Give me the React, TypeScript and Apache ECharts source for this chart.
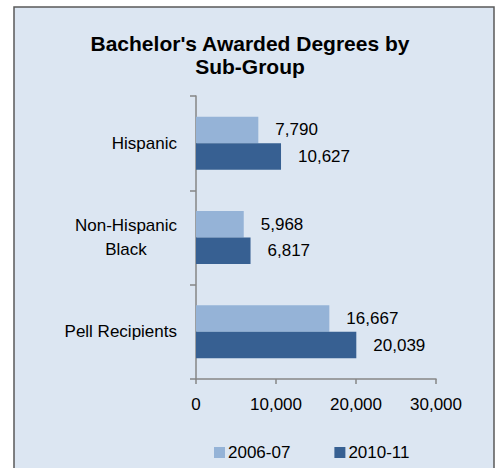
import React, { useEffect, useRef } from "react";
import * as echarts from "echarts";

const categories = ["Hispanic", "Non-Hispanic\nBlack", "Pell Recipients"];
const seriesNames = ["2006-07", "2010-11"];
const values2006 = [7790, 5968, 16667];
const values2011 = [10627, 6817, 20039];
const xTicks = { min: 0, max: 30000, interval: 10000 };

const FONT = '"Liberation Sans", Arial, sans-serif';
const FS = 17;
const fmt = (v: number) => Number(v).toLocaleString("en-US");

export default function App() {
  const ref = useRef<HTMLDivElement>(null);
  useEffect(() => {
    if (!ref.current) return;
    const chart = echarts.init(ref.current, undefined, { renderer: "svg" });
    chart.setOption({
      animation: false,
      backgroundColor: "#ffffff",
      graphic: [
        {
          type: "rect",
          z: -10,
          silent: true,
          shape: { x: 14, y: 7, width: 480, height: 480 },
          style: { fill: "#dce6f2", stroke: "#595959", lineWidth: 1.5 },
        },
      ],
      title: {
        text: "Bachelor's Awarded Degrees by\nSub-Group",
        left: 245,
        top: 27,
        textAlign: "center",
        textStyle: {
          fontFamily: FONT,
          fontWeight: "bold",
          fontSize: 21,
          lineHeight: 23,
          color: "#000000",
        },
      },
      legend: {
        left: 209,
        top: 439,
        icon: "rect",
        itemWidth: 11,
        itemHeight: 11,
        itemGap: 44,
        data: seriesNames,
        textStyle: { fontFamily: FONT, fontSize: FS, color: "#000000", padding: [0, 0, 0, -2] },
      },
      grid: { left: 196, top: 96, width: 240, height: 283, containLabel: false },
      xAxis: {
        type: "value",
        min: xTicks.min,
        max: xTicks.max,
        interval: xTicks.interval,
        splitLine: { show: false },
        axisLine: { show: true, lineStyle: { color: "#868686", width: 1.5 } },
        axisTick: { show: true, length: 5, lineStyle: { color: "#868686", width: 1.5 } },
        axisLabel: {
          formatter: (v: number) => fmt(v),
          fontFamily: FONT,
          fontSize: FS,
          color: "#000000",
          margin: 17,
        },
      },
      yAxis: {
        type: "category",
        inverse: true,
        data: categories,
        axisLine: { show: true, lineStyle: { color: "#868686", width: 1.5 } },
        axisTick: { show: true, length: 6, lineStyle: { color: "#868686", width: 1.5 } },
        axisLabel: {
          fontFamily: FONT,
          fontSize: FS,
          color: "#000000",
          margin: 19,
          lineHeight: 24,
          formatter: (v: string) =>
            v.includes("\n")
              ? v
                  .split("\n")
                  .map((l) => `{c|${l}}`)
                  .join("\n")
              : v,
          rich: {
            c: { width: 102, align: "center", fontFamily: FONT, fontSize: FS, color: "#000000", lineHeight: 24 },
          },
        },
      },
      series: [
        {
          name: seriesNames[0],
          type: "bar",
          data: values2006,
          barWidth: 26.5,
          barGap: "0%",
          itemStyle: { color: "#95b3d7" },
          label: {
            show: true,
            position: "right",
            distance: 17,
            formatter: (p: any) => fmt(p.value),
            fontFamily: FONT,
            fontSize: FS,
            color: "#000000",
          },
        },
        {
          name: seriesNames[1],
          type: "bar",
          data: values2011,
          barWidth: 26.5,
          barGap: "0%",
          itemStyle: { color: "#376092" },
          label: {
            show: true,
            position: "right",
            distance: 17,
            formatter: (p: any) => fmt(p.value),
            fontFamily: FONT,
            fontSize: FS,
            color: "#000000",
          },
        },
      ],
    });
    return () => chart.dispose();
  }, []);
  return (
    <div style={{ position: "absolute", left: 0, top: 0, width: 499, height: 468, overflow: "hidden" }}>
      <div ref={ref} style={{ width: 499, height: 468 }} />
    </div>
  );
}
